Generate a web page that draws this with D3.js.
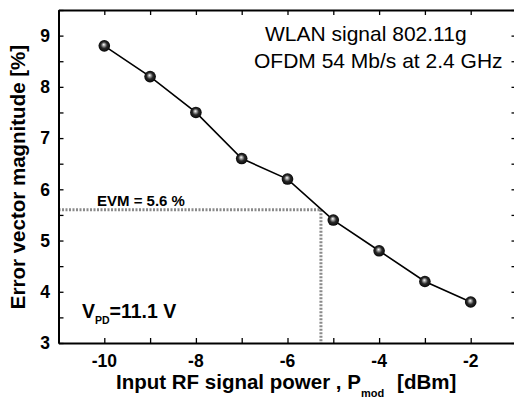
<!DOCTYPE html>
<html><head><meta charset="utf-8">
<script src="https://cdn.jsdelivr.net/npm/d3@7"></script>
<style>body{margin:0;background:#fff}svg{display:block}</style>
</head><body>
<svg id="c" width="514" height="400"></svg>
<script>
const powerDbm = [-10, -9, -8, -7, -6, -5, -4, -3, -2];
const evmPct = [8.8, 8.2, 7.5, 6.6, 6.2, 5.4, 4.8, 4.2, 3.8];
const xTicks = [-10, -8, -6, -4, -2];
const yTicks = [3, 4, 5, 6, 7, 8, 9];
const evmLevel = 5.6;
const evmPower = -5.27;

const svg = d3.select("#c");
const L = 58.5, R = 516.5, T = 10, B = 343;
const x = d3.scaleLinear().domain([-11, -1]).range([L, R]);
const y = d3.scaleLinear().domain([3, 9.5]).range([B, T]);
const font = "Arial, 'Liberation Sans', sans-serif";

const defs = svg.append("defs");
const g = defs.append("radialGradient").attr("id", "ball").attr("cx", "50%").attr("cy", "50%").attr("r", "55%").attr("fx", "45%").attr("fy", "38%");
g.append("stop").attr("offset", "0%").attr("stop-color", "#ffffff");
g.append("stop").attr("offset", "18%").attr("stop-color", "#b0b0b0");
g.append("stop").attr("offset", "50%").attr("stop-color", "#2a2a2a");
g.append("stop").attr("offset", "100%").attr("stop-color", "#000");

// dotted reference lines
svg.append("path")
  .attr("d", `M${x(-11)},${y(evmLevel)}H${x(evmPower)}V${y(3)}`)
  .attr("fill", "none").attr("stroke", "#8a8a8a").attr("stroke-width", 3).attr("stroke-dasharray", "2,1.5");

// axes
const axB = d3.axisBottom(x).tickValues(d3.range(-11, -0.5, 1)).tickSizeInner(-5).tickSizeOuter(0).tickFormat("");
const axT = d3.axisTop(x).tickValues(d3.range(-11, -0.5, 1)).tickSizeInner(-5).tickSizeOuter(0).tickFormat("");
const axL = d3.axisLeft(y).tickValues(d3.range(3, 9.6, 0.5)).tickSizeInner(-5).tickSizeOuter(0).tickFormat("");
const axR = d3.axisRight(y).tickValues(d3.range(3, 9.6, 0.5)).tickSizeInner(-5).tickSizeOuter(0).tickFormat("");
[[axB, `translate(0,${B})`], [axT, `translate(0,${T})`], [axL, `translate(${L},0)`], [axR, `translate(${R},0)`]].forEach(([a, t]) => {
  const gg = svg.append("g").attr("transform", t).call(a);
  gg.select(".domain").attr("stroke", "#000").attr("stroke-width", 2);
  gg.selectAll(".tick line").attr("stroke", "#000").attr("stroke-width", 1.3);
});

// tick labels
svg.append("g").selectAll("text").data(xTicks).join("text")
  .attr("x", d => x(d)).attr("y", 367).attr("text-anchor", "middle")
  .attr("font-family", font).attr("font-weight", "bold").attr("font-size", 17.5).text(d => d);
svg.append("g").selectAll("text").data(yTicks).join("text")
  .attr("x", 50).attr("y", d => y(d) + 6.3).attr("text-anchor", "end")
  .attr("font-family", font).attr("font-weight", "bold").attr("font-size", 17.5).text(d => d);

// line and markers
svg.append("path").datum(powerDbm.map((p, i) => [p, evmPct[i]]))
  .attr("d", d3.line().x(d => x(d[0])).y(d => y(d[1])))
  .attr("fill", "none").attr("stroke", "#000").attr("stroke-width", 1.6);
svg.append("g").selectAll("circle").data(powerDbm).join("circle")
  .attr("cx", d => x(d)).attr("cy", (d, i) => y(evmPct[i])).attr("r", 5.8)
  .attr("fill", "url(#ball)");

// axis titles
svg.append("text").attr("transform", "translate(25,177) rotate(-90)").attr("text-anchor", "middle")
  .attr("font-family", font).attr("font-weight", "bold").attr("font-size", 20.5).text("Error vector magnitude [%]");
const xt = svg.append("text").attr("x", 116).attr("y", 389)
  .attr("font-family", font).attr("font-weight", "bold").attr("font-size", 20.5);
xt.append("tspan").text("Input RF signal power , P");
xt.append("tspan").attr("font-size", 11).attr("dy", 8).text("mod");
xt.append("tspan").attr("dy", -8).attr("dx", 13).text("[dBm]");

// annotations
svg.append("text").attr("x", 265).attr("y", 41).attr("font-family", font).attr("font-size", 21).text("WLAN signal 802.11g");
svg.append("text").attr("x", 254).attr("y", 68).attr("font-family", font).attr("font-size", 21).text("OFDM 54 Mb/s at 2.4 GHz");
svg.append("text").attr("x", 97).attr("y", 206).attr("font-family", font).attr("font-weight", "bold").attr("font-size", 15).text("EVM = 5.6 %");
const vt = svg.append("text").attr("x", 82).attr("y", 318).attr("font-family", font).attr("font-weight", "bold").attr("font-size", 19.5);
vt.append("tspan").text("V");
vt.append("tspan").attr("font-size", 10.5).attr("dy", 6).text("PD");
vt.append("tspan").attr("dy", -6).text("=11.1 V");
</script>
</body></html>
